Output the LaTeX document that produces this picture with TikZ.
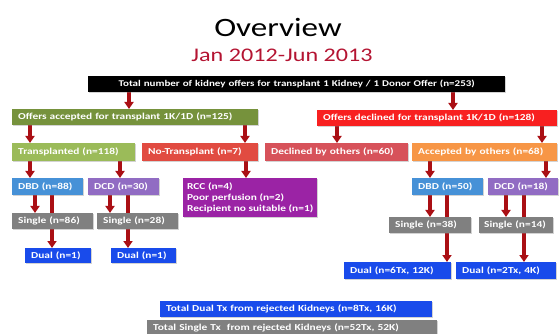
\documentclass[tikz,border=0pt]{standalone}
\usepackage{fontspec}
\setmainfont{Carlito}[FakeStretch=1.25]
\usepackage{xcolor}
\usepackage{tikz}
\usetikzlibrary{arrows.meta,backgrounds,shadows}
\definecolor{titleRed}{RGB}{180,20,50}
\definecolor{arrowRed}{RGB}{170,15,20}
\definecolor{acceptGreen}{RGB}{118,146,60}
\definecolor{txGreen}{RGB}{155,187,89}
\definecolor{declineRed}{RGB}{248,32,32}
\definecolor{notxRed}{RGB}{225,75,65}
\definecolor{othersPink}{RGB}{215,82,90}
\definecolor{othersOrange}{RGB}{247,150,70}
\definecolor{dbdBlue}{RGB}{70,145,215}
\definecolor{dcdPurple}{RGB}{145,108,195}
\definecolor{rccMagenta}{RGB}{155,35,165}
\definecolor{singleGray}{RGB}{128,128,128}
\definecolor{dualBlue}{RGB}{25,75,235}

\tikzset{
  box/.style={anchor=north west, inner xsep=6pt, inner ysep=0pt, text=white, align=left,
    font=\bfseries\fontsize{9.1}{11}\selectfont,
    drop shadow={shadow xshift=1pt, shadow yshift=-1pt, opacity=.35}},
  arr/.style={draw=arrowRed, line width=3.5pt, -{Triangle[width=9pt,length=7pt]}}
}

\begin{document}
\begin{tikzpicture}[x=1pt, y=-1pt]
\useasboundingbox (0,0) rectangle (560,334);
% title
\node[anchor=base, font=\fontsize{26.5}{30}\selectfont] (title) at (278,37) {Overview};
\node[anchor=base, text=titleRed, font=\fontsize{19.3}{22}\selectfont] (period) at (282,62) {Jan 2012-Jun 2013};
% offers
\node[box, fill=black, align=center, text width=405pt, minimum height=16pt, font=\bfseries\fontsize{8.8}{10}\selectfont] (total) at (88,76)
  {Total number of kidney offers for transplant 1 Kidney / 1 Donor Offer (n=253)};
\node[box, fill=acceptGreen, text width=234pt, minimum height=16pt] (accepted) at (12,109) {Offers accepted for transplant 1K/1D (n=125)};
\node[box, fill=declineRed, text width=228pt, minimum height=16pt] (declined) at (317,110) {Offers declined for transplant 1K/1D (n=128)};
% second row
\node[box, fill=txGreen, text width=111pt, minimum height=18pt] (transpl) at (12,143) {Transplanted (n=118)};
\node[box, fill=notxRed, text width=104pt, minimum height=18pt] (notranspl) at (142,143) {No-Transplant (n=7)};
\node[box, fill=othersPink, text width=131pt, minimum height=18pt] (declothers) at (265,143) {Declined by others (n=60)};
\node[box, fill=othersOrange, text width=133pt, minimum height=18pt] (accothers) at (412,143) {Accepted by others (n=68)};
% donor type
\node[box, fill=dbdBlue, text width=59pt, minimum height=17pt] (dbdA) at (12,178) {DBD (n=88)};
\node[box, fill=dcdPurple, text width=59pt, minimum height=17pt] (dcdA) at (88,178) {DCD (n=30)};
\node[box, fill=rccMagenta, inner xsep=3pt, minimum width=134pt, minimum height=39pt] (rcc) at (183,178)
  {RCC (n=4)\\Poor perfusion (n=2)\\Recipient no suitable (n=1)};
\node[box, fill=dbdBlue, text width=59pt, minimum height=17pt] (dbdB) at (412,178) {DBD (n=50)};
\node[box, fill=dcdPurple, text width=58pt, minimum height=17pt] (dcdB) at (488,178) {DCD (n=18)};
% single / dual
\node[box, fill=singleGray, text width=69pt, minimum height=16pt] (singleA) at (12,213) {Single (n=86)};
\node[box, fill=singleGray, text width=69pt, minimum height=16pt] (singleB) at (97,213) {Single (n=28)};
\node[box, fill=singleGray, text width=70pt, minimum height=16pt] (singleC) at (389,217) {Single (n=38)};
\node[box, fill=singleGray, inner xsep=5pt, text width=64pt, minimum height=16pt] (singleD) at (479,217) {Single (n=14)};
\node[box, fill=dualBlue, text width=54pt, minimum height=15pt] (dualA) at (25,248) {Dual (n=1)};
\node[box, fill=dualBlue, text width=53pt, minimum height=15pt] (dualB) at (111,248) {Dual (n=1)};
\node[box, fill=dualBlue, text width=95pt, minimum height=17pt] (dualC) at (344,262) {Dual (n=6Tx, 12K)};
\node[box, fill=dualBlue, text width=88pt, minimum height=17pt] (dualD) at (456,262) {Dual (n=2Tx, 4K)};
% totals
\node[box, fill=dualBlue, text width=260pt, minimum height=16pt] (totdual) at (160,301) {Total Dual Tx from rejected Kidneys (n=8Tx, 16K)};
\node[box, fill=singleGray, text width=278pt, minimum height=16pt] (totsingle) at (147,320) {Total Single Tx~ from rejected Kidneys (n=52Tx, 52K)};
% arrows
\begin{scope}[on background layer]
\draw[arr] (129,0 |- total.south) -- (129,0 |- accepted.north);
\draw[arr] (453,0 |- total.south) -- (453,0 |- declined.north);
\draw[arr] (30,0 |- accepted.south) -- (30,0 |- transpl.north);
\draw[arr] (245,0 |- accepted.south) -- (245,0 |- notranspl.north);
\draw[arr] (337,0 |- declined.south) -- (337,0 |- declothers.north);
\draw[arr] (542,0 |- declined.south) -- (542,0 |- accothers.north);
\draw[arr] (30,0 |- transpl.south) -- (30,0 |- dbdA.north);
\draw[arr] (120,0 |- transpl.south) -- (120,0 |- dcdA.north);
\draw[arr] (246,0 |- notranspl.south) -- (246,0 |- rcc.north);
\draw[arr] (430,0 |- accothers.south) -- (430,0 |- dbdB.north);
\draw[arr] (546,0 |- accothers.south) -- (546,0 |- dcdB.north);
\draw[arr] (35,0 |- dbdA.south) -- (35,0 |- singleA.north);
\draw[arr] (52,0 |- dbdA.south) -- (52,0 |- dualA.north);
\draw[arr] (110,0 |- dcdA.south) -- (110,0 |- singleB.north);
\draw[arr] (128,0 |- dcdA.south) -- (128,0 |- dualB.north);
\draw[arr] (430,0 |- dbdB.south) -- (430,0 |- singleC.north);
\draw[arr] (447,0 |- dbdB.south) -- (447,0 |- dualC.north);
\draw[arr] (506,0 |- dcdB.south) -- (506,0 |- singleD.north);
\draw[arr] (524,0 |- dcdB.south) -- (524,0 |- dualD.north);
\end{scope}
\end{tikzpicture}
\end{document}
